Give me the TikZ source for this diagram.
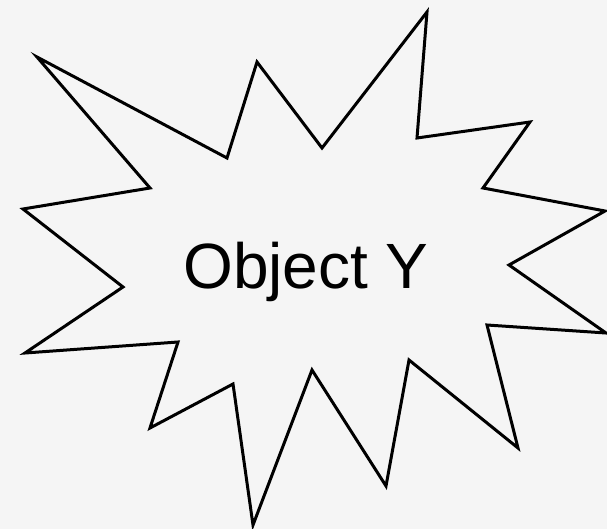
\documentclass[tikz,border=0pt]{standalone}
\usepackage{fontspec}
\setmainfont{Liberation Sans}
\usepackage{tikz}

\begin{document}
\begin{tikzpicture}[
  x=1pt, y=-1pt,
  burst/.style={draw, line width=3pt, line join=miter},
  every node/.style={font=\fontsize{64}{70}\selectfont, inner sep=0pt}
]
\fill[black!4] (0,0) rectangle (607,529);
\useasboundingbox (0,0) rectangle (607,529);
\draw[burst] (37,57) -- (227,158) -- (257,62) -- (322,148) -- (427,12)
  -- (417,138) -- (530,122) -- (483,188) -- (605,211) -- (509,265)
  -- (606,333) -- (487,325) -- (518,448) -- (409,360) -- (386,486)
  -- (312,370) -- (253,525) -- (233,384) -- (150,428) -- (178,342)
  -- (25,353) -- (123,287) -- (23,209) -- (150,188) -- cycle;
\node[anchor=base] (lbl) at (306,288) {Object Y};
\end{tikzpicture}
\end{document}
